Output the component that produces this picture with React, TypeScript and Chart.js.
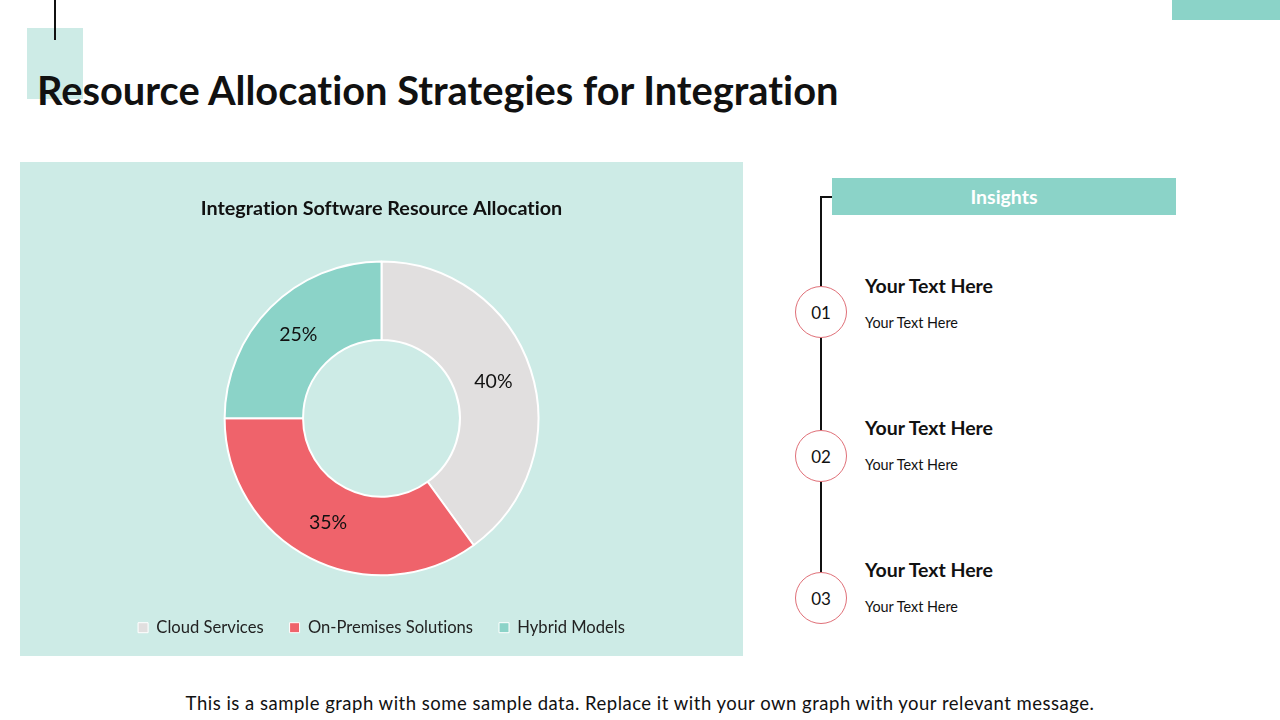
import React, { useEffect, useRef } from "react";
import { Chart, registerables } from "chart.js";

Chart.register(...registerables);

const categories = ["Cloud Services", "On-Premises Solutions", "Hybrid Models"];
const shareValues = [40, 35, 25];
const sliceColors = ["#E1DFDF", "#EF636B", "#8BD3C8"];
const chartTitle = "Integration Software Resource Allocation";
const pageTitle = "Resource Allocation Strategies for Integration";
const insightNumbers = ["01", "02", "03"];
const insightHeads = ["Your Text Here", "Your Text Here", "Your Text Here"];
const insightBodies = ["Your Text Here", "Your Text Here", "Your Text Here"];
const footerText =
  "This is a sample graph with some sample data. Replace it with your own graph with your relevant message.";

const FONT = "Lato, 'Noto Sans', sans-serif";

const percentLabels = {
  id: "percentLabels",
  afterDatasetsDraw(chart: any) {
    const ctx = chart.ctx;
    const meta = chart.getDatasetMeta(0);
    const data = chart.data.datasets[0].data as number[];
    ctx.save();
    ctx.font = `400 19.5px ${FONT}`;
    ctx.fillStyle = "#111111";
    ctx.textAlign = "center";
    ctx.textBaseline = "middle";
    meta.data.forEach((arc: any, i: number) => {
      const p = arc.tooltipPosition();
      ctx.fillText(`${data[i]}%`, p.x, p.y);
    });
    ctx.restore();
  },
};

function DoughnutPanel() {
  const ref = useRef<HTMLCanvasElement | null>(null);
  useEffect(() => {
    if (!ref.current) return;
    const chart = new Chart(ref.current, {
      type: "doughnut",
      data: {
        labels: categories,
        datasets: [
          {
            data: shareValues,
            backgroundColor: sliceColors,
            borderColor: "#FFFFFF",
            borderWidth: 2,
          },
        ],
      },
      options: {
        responsive: false,
        animation: false,
        cutout: "50%",
        layout: { padding: { top: 0, bottom: 10, left: 0, right: 0 } },
        plugins: {
          tooltip: { enabled: false },
          title: {
            display: true,
            text: chartTitle,
            color: "#111111",
            font: { family: FONT, size: 19.8, weight: "bold" },
            padding: { top: 35.1, bottom: 39.6 },
          },
          legend: {
            position: "bottom",
            title: {
              display: true,
              text: "",
              font: { size: 10 },
              padding: { top: 0, bottom: 5.2 },
            },
            labels: {
              boxWidth: 10,
              boxHeight: 10,
              padding: 26,
              color: "#222222",
              font: { family: FONT, size: 16.6 },
              generateLabels: () =>
                categories.map((t, i) => ({
                  text: t,
                  fillStyle: sliceColors[i],
                  strokeStyle: "#FFFFFF",
                  lineWidth: 1,
                  hidden: false,
                  index: i,
                  fontColor: "#222222",
                })),
            },
          },
        },
      },
      plugins: [percentLabels],
    });
    return () => chart.destroy();
  }, []);
  return <canvas ref={ref} width={723} height={494} style={{ display: "block" }} />;
}

export default function App() {
  const circleYs = [312, 456, 598];
  const headYs = [286, 428, 570];
  const bodyYs = [323, 465, 607];
  return (
    <div
      style={{
        position: "absolute",
        left: 0,
        top: 0,
        width: 1280,
        height: 720,
        background: "#FFFFFF",
        overflow: "hidden",
        fontFamily: FONT,
        color: "#111111",
        fontVariantLigatures: "none",
      }}
    >
      <div style={{ position: "absolute", left: 27, top: 28, width: 56, height: 71, background: "#CDEBE6" }} />
      <div style={{ position: "absolute", left: 54, top: 0, width: 2, height: 40, background: "#111111" }} />
      <div style={{ position: "absolute", left: 1172, top: 0, width: 108, height: 20, background: "#8BD3C8" }} />
      <div
        style={{
          position: "absolute",
          left: 37,
          top: 90,
          transform: "translateY(-50%)",
          fontSize: 39.8,
          fontWeight: 700,
          whiteSpace: "nowrap",
          lineHeight: 1,
        }}
      >
        {pageTitle}
      </div>

      <div style={{ position: "absolute", left: 20, top: 162, width: 723, height: 494, background: "#CDEBE6" }}>
        <DoughnutPanel />
      </div>

      {/* insights */}
      <div style={{ position: "absolute", left: 820, top: 196, width: 12, height: 2, background: "#111" }} />
      <div style={{ position: "absolute", left: 820, top: 196, width: 2, height: 376, background: "#111" }} />
      <div
        style={{
          position: "absolute",
          left: 832,
          top: 178,
          width: 344,
          height: 37,
          background: "#8BD3C8",
          color: "#FFFFFF",
          fontWeight: 700,
          fontSize: 19.5,
          display: "flex",
          alignItems: "center",
          justifyContent: "center",
        }}
      >
        Insights
      </div>
      {insightNumbers.map((n, i) => (
        <React.Fragment key={n}>
          <div
            style={{
              position: "absolute",
              left: 821 - 26,
              top: circleYs[i] - 26,
              width: 52,
              height: 52,
              boxSizing: "border-box",
              borderRadius: "50%",
              border: "1.5px solid #E07078",
              background: "#FFFFFF",
              display: "flex",
              alignItems: "center",
              justifyContent: "center",
              fontSize: 17,
              color: "#111",
            }}
          >
            {n}
          </div>
          <div
            style={{
              position: "absolute",
              left: 865,
              top: headYs[i],
              transform: "translateY(-50%)",
              fontSize: 19.5,
              fontWeight: 700,
              whiteSpace: "nowrap",
              lineHeight: 1,
            }}
          >
            {insightHeads[i]}
          </div>
          <div
            style={{
              position: "absolute",
              left: 865,
              top: bodyYs[i],
              transform: "translateY(-50%)",
              fontSize: 14.4,
              whiteSpace: "nowrap",
              lineHeight: 1,
            }}
          >
            {insightBodies[i]}
          </div>
        </React.Fragment>
      ))}

      <div
        style={{
          position: "absolute",
          left: 0,
          width: 1280,
          top: 703,
          transform: "translateY(-50%)",
          textAlign: "center",
          fontSize: 18.5,
          letterSpacing: 0.5,
          whiteSpace: "nowrap",
          lineHeight: 1,
        }}
      >
        {footerText}
      </div>
    </div>
  );
}
